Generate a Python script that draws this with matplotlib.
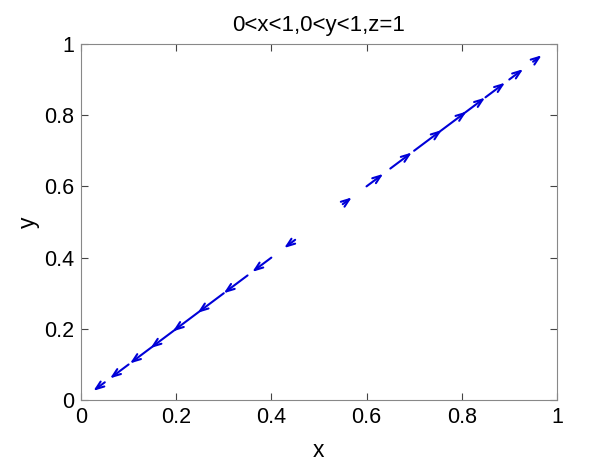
import matplotlib
matplotlib.use("Agg")
import matplotlib.pyplot as plt

plt.rcParams["font.family"] = ["Liberation Sans", "DejaVu Sans"]

# tail positions along the diagonal x = y
tails = [0.05, 0.10, 0.15, 0.20, 0.25, 0.30, 0.35, 0.40, 0.45,
         0.55, 0.60, 0.65, 0.70, 0.75, 0.80, 0.85, 0.90, 0.95]
# displacement of each arrow (same in x and y)
steps = [-0.024, -0.039, -0.047, -0.054, -0.057, -0.055, -0.050, -0.040, -0.023,
         0.019, 0.035, 0.045, 0.058, 0.060, 0.049, 0.041, 0.029, 0.018]

xticks = [0, 0.2, 0.4, 0.6, 0.8, 1]
yticks = [0, 0.2, 0.4, 0.6, 0.8, 1]

fs = 15.5
fig = plt.figure(figsize=(6.16, 4.62), dpi=100)
ax = fig.add_axes([0.1315, 0.134, 0.7725, 0.771])

for t, d in zip(tails, steps):
    ax.annotate("", xy=(t + d, t + d), xytext=(t, t),
                arrowprops=dict(arrowstyle="->,head_length=0.6,head_width=0.22",
                                color="#0000d8", lw=1.5,
                                shrinkA=0, shrinkB=0))

ax.set_xlim(0, 1)
ax.set_ylim(0, 1)
ax.set_xticks(xticks)
ax.set_xticklabels(["0", "0.2", "0.4", "0.6", "0.8", "1"])
ax.set_yticks(yticks)
ax.set_yticklabels(["0", "0.2", "0.4", "0.6", "0.8", "1"])
ax.tick_params(direction="in", top=True, right=True, length=5,
               labelsize=fs, color="#444444", pad=5)
for s in ax.spines.values():
    s.set_color("#888888")
    s.set_linewidth(0.8)

ax.set_xlabel("x", fontsize=fs + 1, labelpad=8)
ax.set_ylabel("y", fontsize=fs + 1, labelpad=3)
ax.set_title("0<x<1,0<y<1,z=1", fontsize=fs + 0.5, pad=9)

fig.savefig("out.png", dpi=100)
